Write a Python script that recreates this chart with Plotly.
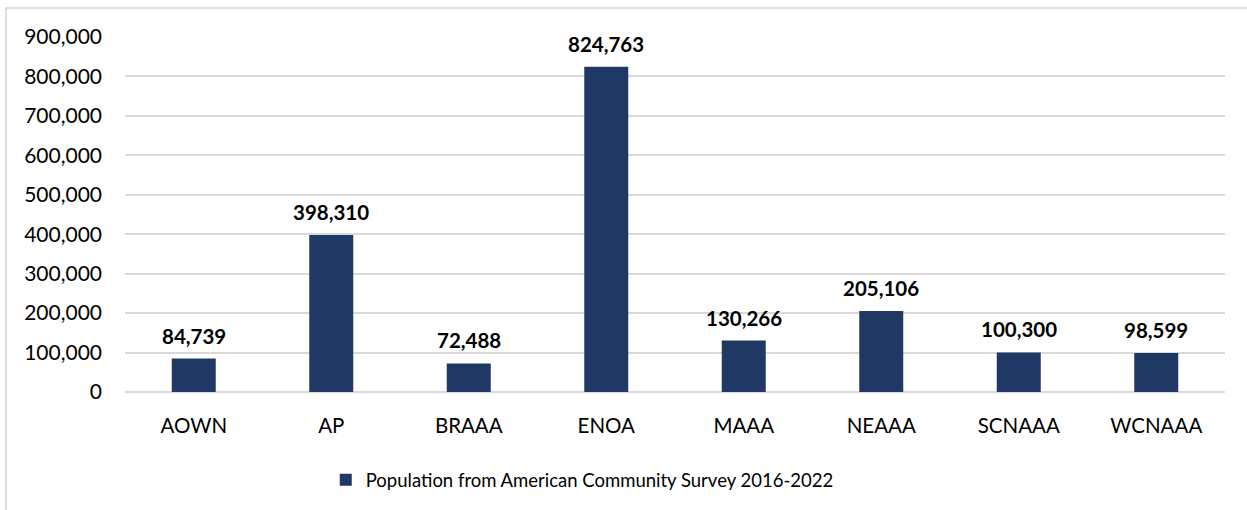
import plotly.graph_objects as go

categories = ["AOWN", "AP", "BRAAA", "ENOA", "MAAA", "NEAAA", "SCNAAA", "WCNAAA"]
population = [84739, 398310, 72488, 824763, 130266, 205106, 100300, 98599]
series_name = "Population from American Community Survey 2016-2022"
tick_values = [0, 100000, 200000, 300000, 400000, 500000, 600000, 700000, 800000, 900000]

FONT = "Lato, Carlito, Calibri, sans-serif"
BAR = "#203864"

fig = go.Figure()
fig.add_trace(go.Bar(
    x=categories, y=population, name=series_name,
    marker=dict(color=BAR, line=dict(width=0)),
    showlegend=True,
))

annotations = [
    dict(x=c, y=v, xref="x", yref="y", text=f"<b>{v:,}</b>", showarrow=False,
         yanchor="bottom", yshift=9, font=dict(family=FONT, size=20.5, color="#000000"))
    for c, v in zip(categories, population)
]

fig.update_layout(
    width=1247, height=510,
    margin=dict(l=125, r=22, t=37, b=117),
    paper_bgcolor="white", plot_bgcolor="white",
    font=dict(family=FONT, size=21, color="#000000"),
    bargap=0.68,
    xaxis=dict(showgrid=False, showline=False, ticks="", tickfont=dict(size=20.5),
               ticklabelstandoff=19),
    yaxis=dict(range=[0, 900000], tickvals=tick_values, tickformat=",d",
               showgrid=True, gridcolor="#d9d9d9", gridwidth=1.5,
               zeroline=True, zerolinecolor="#d9d9d9", zerolinewidth=1.5,
               showline=False, ticks="", ticklabelstandoff=22,
               tickfont=dict(size=21)),
    legend=dict(orientation="h", x=0.1825, xanchor="left", y=-0.245, yanchor="middle",
                font=dict(size=18.5), itemwidth=30),
    annotations=annotations,
    shapes=[dict(type="rect", xref="paper", yref="paper",
                 x0=-0.1082, x1=1.03, y0=-0.4, y1=1.082,
                 line=dict(color="#d4d4d4", width=1.5), fillcolor="rgba(0,0,0,0)",
                 layer="above")],
)

fig.write_html("out.html", post_script="document.body.style.margin='0';",
               config={"displayModeBar": False})
